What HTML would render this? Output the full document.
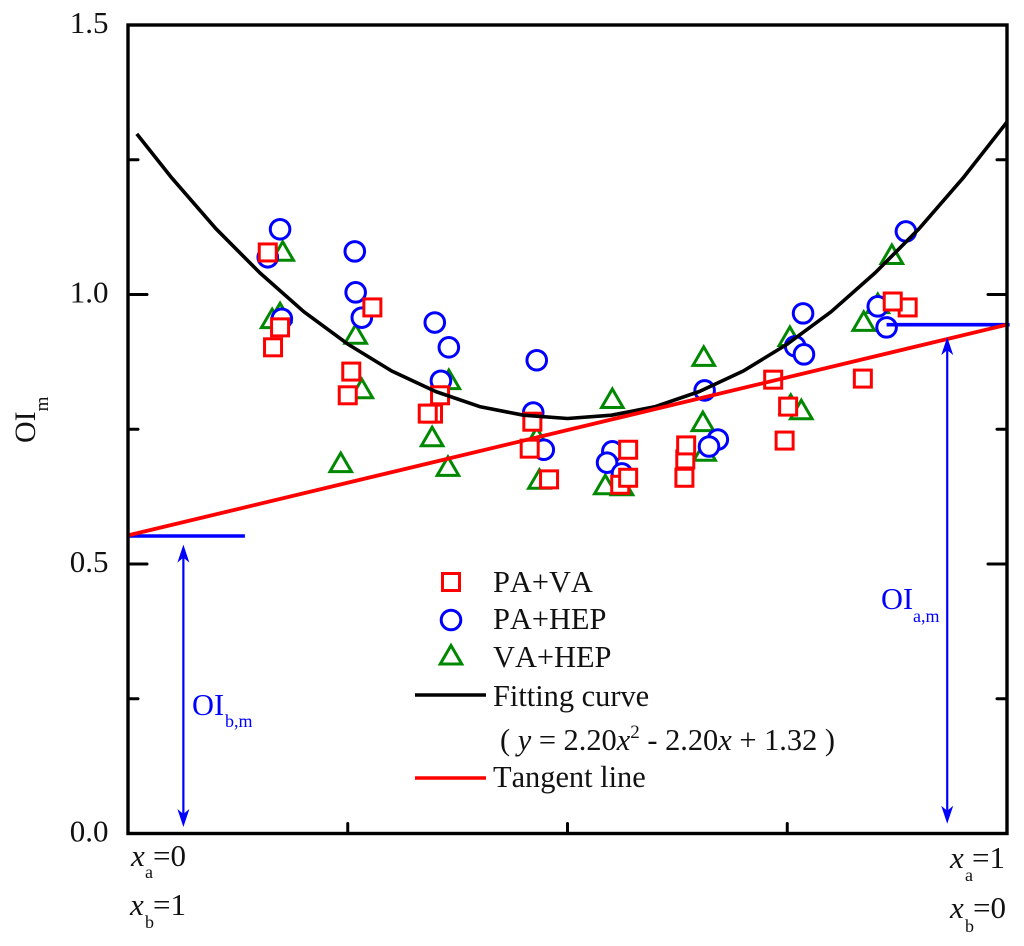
<!DOCTYPE html>
<html lang="en">
<head>
<meta charset="utf-8">
<title>OIm fitting curve chart</title>
<style>
html,body{margin:0;padding:0;background:#fff;}
svg{display:block;}
text{font-family:"Liberation Serif","Times New Roman",serif;fill:#111;font-kerning:none;}
</style>
</head>
<body>
<svg id="chart" xmlns="http://www.w3.org/2000/svg" width="1024" height="946" viewBox="0 0 1024 946">
  <rect x="0" y="0" width="1024" height="946" fill="#fff"/>
  <g id="marks"></g>
  <g id="axes"></g>

  <text transform="translate(35,443) rotate(-90)" font-size="30">OI<tspan font-size="19" dy="13">m</tspan></text>

  <g>
    <text x="493" y="592" font-size="30.4">PA+VA</text>
    <text x="493" y="629" font-size="30.4">PA+HEP</text>
    <text x="493" y="667" font-size="30.4">VA+HEP</text>
    <text x="493" y="706" font-size="30.4">Fitting curve</text>
    <text x="500" y="750" font-size="30.4">( <tspan font-style="italic">y</tspan> = 2.20<tspan font-style="italic">x</tspan><tspan font-size="19" dy="-12">2</tspan><tspan dy="12"> - 2.20</tspan><tspan font-style="italic">x</tspan> + 1.32 )</text>
    <text x="493" y="787" font-size="30.4">Tangent line</text>
    <line x1="415" x2="486" y1="695" y2="695" stroke="#000" stroke-width="3.6"/>
    <line x1="415" x2="486" y1="778" y2="778" stroke="#f00" stroke-width="3.6"/>
    <rect x="442.5" y="573.5" width="17" height="17" fill="#fff" stroke="#f00" stroke-width="3"/>
    <circle cx="451" cy="620" r="9.8" fill="#fff" stroke="#00f" stroke-width="3"/>
    <path d="M451 645.5 L461.75 664 L440.25 664 Z" fill="#fff" stroke="#080" stroke-width="3"/>
  </g>

  <text x="881" y="609" font-size="30.4" style="fill:#00f">OI</text>
  <text x="913" y="622" font-size="18" style="fill:#00f">a,m</text>
  <text x="192" y="715" font-size="30.4" style="fill:#00f">OI</text>
  <text x="225" y="727" font-size="18" style="fill:#00f">b,m</text>

  <g font-size="31">
    <text x="131" y="866"><tspan font-style="italic">x</tspan></text>
    <text x="145" y="878" font-size="18">a</text>
    <text x="153" y="866">=0</text>
    <text x="130" y="915"><tspan font-style="italic">x</tspan></text>
    <text x="145" y="928" font-size="18">b</text>
    <text x="153" y="915">=1</text>
    <text x="950" y="868"><tspan font-style="italic">x</tspan></text>
    <text x="965" y="881" font-size="18">a</text>
    <text x="972" y="868">=1</text>
    <text x="950" y="918"><tspan font-style="italic">x</tspan></text>
    <text x="965" y="932" font-size="18">b</text>
    <text x="973" y="918">=0</text>
  </g>
</svg>

<script>
// ---- chart data ----
const yMajorTicks = [0.5, 1.0];
const yMinorTicks = [0.25, 0.75, 1.25];
const yTickValues = [0, 0.5, 1.0, 1.5];
const yTickLabels = ['0.0', '0.5', '1.0', '1.5'];
const xTicks = [0.25, 0.5, 0.75];

const paVaX = [0.159,0.165,0.173,0.278,0.250,0.254,0.347,0.341,0.355,0.460,0.457,0.479,0.569,0.560,0.569,0.633,0.634,0.635,0.734,0.751,0.747,0.836,0.887,0.870];
const paVaY = [1.078,0.902,0.939,0.976,0.813,0.857,0.779,0.779,0.813,0.764,0.714,0.657,0.712,0.647,0.660,0.660,0.694,0.720,0.842,0.792,0.729,0.844,0.976,0.987];

const paHepX = [0.173,0.159,0.258,0.259,0.266,0.175,0.349,0.365,0.356,0.465,0.461,0.473,0.551,0.545,0.562,0.656,0.671,0.661,0.885,0.768,0.759,0.769,0.853,0.863];
const paHepY = [1.121,1.069,1.080,1.004,0.957,0.955,0.948,0.902,0.840,0.878,0.781,0.712,0.709,0.688,0.668,0.822,0.731,0.718,1.117,0.965,0.904,0.889,0.978,0.939];

const vaHepX = [0.176,0.173,0.164,0.259,0.242,0.266,0.365,0.346,0.364,0.465,0.468,0.551,0.655,0.654,0.656,0.543,0.562,0.753,0.754,0.766,0.853,0.837,0.869];
const vaHepY = [1.082,0.968,0.957,0.928,0.690,0.827,0.844,0.738,0.683,0.737,0.659,0.809,0.887,0.766,0.711,0.649,0.647,0.924,0.798,0.788,0.985,0.952,1.076];

const curveX = [0.01,0.05,0.10,0.15,0.20,0.25,0.30,0.35,0.40,0.45,0.50,0.55,0.60,0.65,0.70,0.75,0.80,0.85,0.90,0.95,1.00];
const curveY = [1.298,1.216,1.122,1.040,0.968,0.908,0.858,0.820,0.792,0.776,0.770,0.776,0.792,0.820,0.858,0.908,0.968,1.040,1.122,1.216,1.320];

const tangentX = [0, 1];
const tangentY = [0.553, 0.944];

const oiBLevelX = [0, 0.133];
const oiBLevelY = [0.552, 0.552];
const oiALevelX = [0.863, 1.003];
const oiALevelY = [0.944, 0.944];

const oiBArrowX = 0.063;
const oiBArrowY = [0.536, 0.012];
const oiAArrowX = 0.932;
const oiAArrowY = [0.921, 0.018];

// ---- axis functions ----
const xLeft = 128, xWidth = 879, yZero = 833.5, yScale = 539;
function sx(v) { return xLeft + xWidth * v; }
function sy(v) { return yZero - yScale * v; }

const NS = 'http://www.w3.org/2000/svg';
const marks = document.getElementById('marks');
const axes = document.getElementById('axes');
function make(tag, attrs, parent) {
  const el = document.createElementNS(NS, tag);
  for (const k in attrs) el.setAttribute(k, attrs[k]);
  parent.appendChild(el);
  return el;
}
function pts(xs, ys) {
  return xs.map(function (x, i) { return sx(x).toFixed(1) + ',' + sy(ys[i]).toFixed(1); }).join(' ');
}

// ---- markers ----
vaHepX.forEach(function (x, i) {
  const px = sx(x), py = sy(vaHepY[i]);
  const el = make('path', {
    d: 'M' + px + ' ' + (py - 8.5) + ' L' + (px + 10.75) + ' ' + (py + 10) + ' L' + (px - 10.75) + ' ' + (py + 10) + ' Z',
    fill: '#fff', stroke: '#080', 'stroke-width': 3
  }, marks);
  
  
});
paHepX.forEach(function (x, i) {
  const el = make('circle', {
    cx: sx(x), cy: sy(paHepY[i]), r: 9.8,
    fill: '#fff', stroke: '#00f', 'stroke-width': 3
  }, marks);
  
  
});
paVaX.forEach(function (x, i) {
  const el = make('rect', {
    x: sx(x) - 8.5, y: sy(paVaY[i]) - 8.5, width: 17, height: 17,
    fill: '#fff', stroke: '#f00', 'stroke-width': 3
  }, marks);
  
  
});

// ---- lines ----
const curveLine = make('polyline', {
  points: pts(curveX, curveY), fill: 'none', stroke: '#000', 'stroke-width': 3.6, 'stroke-linejoin': 'round'
}, marks);



const oiBLevel = make('polyline', {
  points: pts(oiBLevelX, oiBLevelY), fill: 'none', stroke: '#00f', 'stroke-width': 3.6
}, marks);



const oiALevel = make('polyline', {
  points: pts(oiALevelX, oiALevelY), fill: 'none', stroke: '#00f', 'stroke-width': 3.6
}, marks);



const tangentLine = make('polyline', {
  points: pts(tangentX, tangentY), fill: 'none', stroke: '#f00', 'stroke-width': 3.8
}, marks);



// ---- double-headed arrows ----
function drawArrow(xVal, yVals, group) {
  const px = sx(xVal), top = sy(yVals[0]), bot = sy(yVals[1]);
  make('line', { x1: px, x2: px, y1: top + 8, y2: bot - 8, stroke: '#00f', 'stroke-width': 2.2 }, group);
  make('path', { d: 'M' + px + ' ' + top + ' L' + (px + 6) + ' ' + (top + 18) + ' L' + px + ' ' + (top + 13) + ' L' + (px - 6) + ' ' + (top + 18) + ' Z', fill: '#00f' }, group);
  make('path', { d: 'M' + px + ' ' + bot + ' L' + (px + 6) + ' ' + (bot - 18) + ' L' + px + ' ' + (bot - 13) + ' L' + (px - 6) + ' ' + (bot - 18) + ' Z', fill: '#00f' }, group);
}
const oiBArrow = make('g', {}, marks);


drawArrow(oiBArrowX, oiBArrowY, oiBArrow);
const oiAArrow = make('g', {}, marks);


drawArrow(oiAArrowX, oiAArrowY, oiAArrow);

// ---- axes ----
const frame = make('rect', {
  x: sx(0), y: sy(1.5), width: sx(1) - sx(0), height: sy(0) - sy(1.5),
  fill: 'none', stroke: '#000', 'stroke-width': 3.4
}, axes);



function tickLine(x1, y1, x2, y2) {
  const el = make('line', { x1: x1, y1: y1, x2: x2, y2: y2, stroke: '#000', 'stroke-width': 3, 'stroke-linecap': 'round' }, axes);
  
  
}
yMajorTicks.forEach(function (v) {
  tickLine(sx(0), sy(v), sx(0) + 19, sy(v));
  tickLine(sx(1), sy(v), sx(1) - 19, sy(v));
});
yMinorTicks.forEach(function (v) {
  tickLine(sx(0), sy(v), sx(0) + 10, sy(v));
  tickLine(sx(1), sy(v), sx(1) - 10, sy(v));
});
xTicks.forEach(function (v) {
  tickLine(sx(v), sy(0), sx(v), sy(0) - 10);
});
yTickValues.forEach(function (v, i) {
  const el = make('text', { x: 108.5, y: sy(v) + 8, 'font-size': 31, 'text-anchor': 'end' }, axes);
  el.textContent = yTickLabels[i];
  
  
});
</script>
</body>
</html>
